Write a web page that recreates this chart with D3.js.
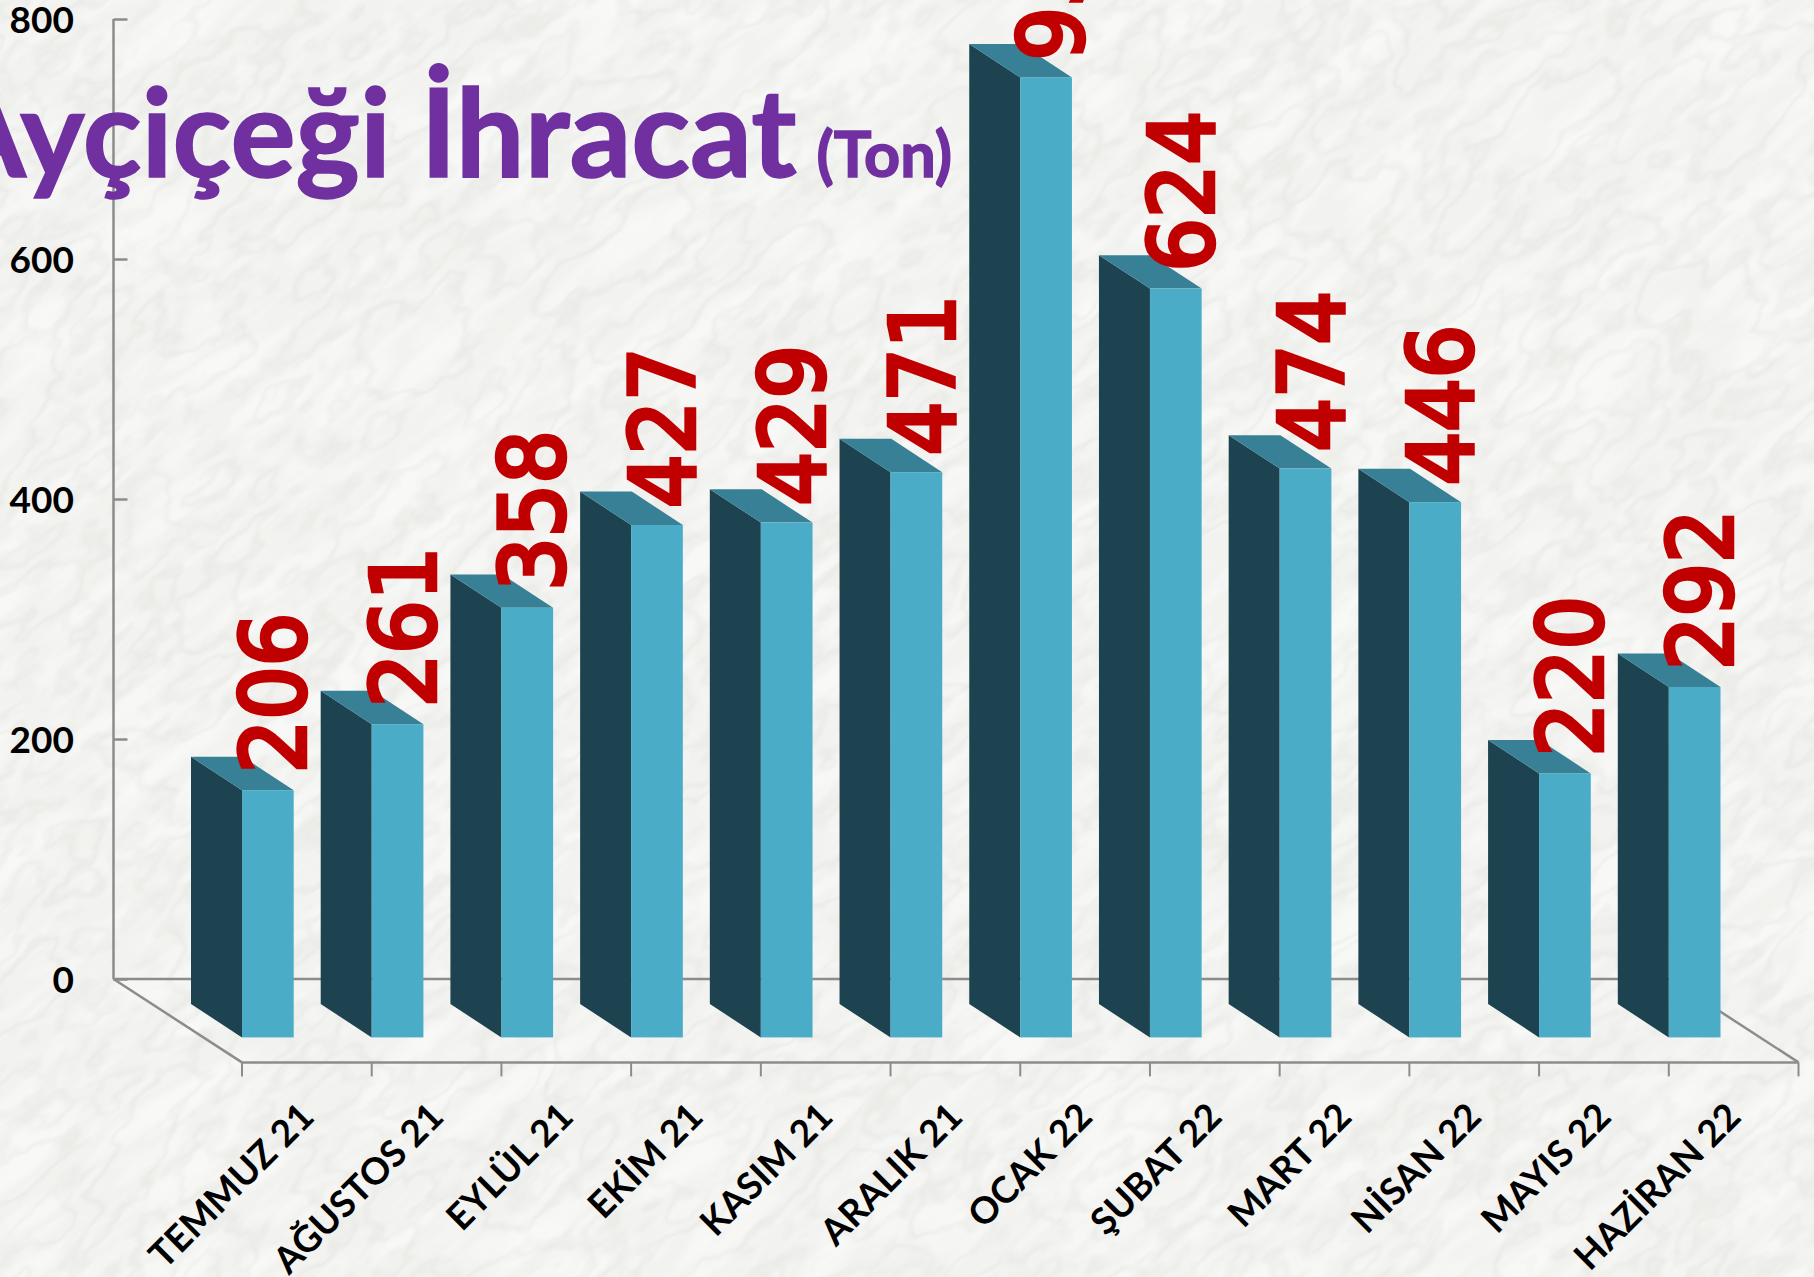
<!DOCTYPE html>
<html>
<head>
<meta charset="utf-8">
<script src="https://d3js.org/d3.v7.min.js"></script>
<style>
  html, body { margin: 0; padding: 0; background: #f7f7f5; overflow: hidden; }
  svg { display: block; }
  .tick-label { font-family: Lato, sans-serif; font-weight: 700; fill: #000; }
</style>
</head>
<body>
<div id="chart"></div>
<script>
var months = ["TEMMUZ 21", "AĞUSTOS 21", "EYLÜL 21", "EKİM 21", "KASIM 21", "ARALIK 21",
              "OCAK 22", "ŞUBAT 22", "MART 22", "NİSAN 22", "MAYIS 22", "HAZİRAN 22"];
var tons = [206, 261, 358, 427, 429, 471, 950, 624, 474, 446, 220, 292];
var yTicks = [0, 200, 400, 600, 800];

var width = 1814, height = 1277;
var depthX = 51, depthY = 33.4;   // one bar's depth
var floorX = 128.4, floorY = 83.4; // depth of the floor
var barW = 51.7;

var svg = d3.select("#chart").append("svg")
    .attr("width", width)
    .attr("height", height);

// marble background: soft streaks plus a few thin veins
var defs = svg.append("defs");
function marbleFilter(id, freq, seed, table, grey) {
    var f = defs.append("filter").attr("id", id)
        .attr("x", 0).attr("y", 0).attr("width", "100%").attr("height", "100%")
        .attr("color-interpolation-filters", "sRGB");
    f.append("feTurbulence")
        .attr("type", "fractalNoise")
        .attr("baseFrequency", freq)
        .attr("numOctaves", 4)
        .attr("seed", seed);
    f.append("feColorMatrix")
        .attr("type", "matrix")
        .attr("values", "0 0 0 0 " + grey + "  0 0 0 0 " + grey + "  0 0 0 0 " + (grey - 0.02) + "  1 0 0 0 0");
    f.append("feComponentTransfer")
        .append("feFuncA")
        .attr("type", "table")
        .attr("tableValues", table);
}
marbleFilter("streaks", "0.006 0.028", 3, "0 0 0 0 0.02 0.06 0.12 0.17 0.12 0.06 0.02 0 0 0", 0.82);
marbleFilter("veins", "0.009 0.016", 11, "0 0 0 0 0 0 0.12 0 0 0.1 0 0 0 0 0", 0.72);

svg.append("rect").attr("width", width).attr("height", height).attr("fill", "#f8f8f6");
["streaks", "veins"].forEach(function(id) {
    svg.append("rect")
        .attr("x", -800).attr("y", -800)
        .attr("width", width + 1600).attr("height", height + 1600)
        .attr("filter", "url(#" + id + ")")
        .attr("transform", "rotate(-40 907 638)");
});

var y = d3.scaleLinear().domain([0, 800]).range([979, 19]).clamp(true);
var x = d3.scaleBand().domain(months).range([242, 1798.5]);

// y axis
var yAxis = d3.axisRight(y).tickValues(yTicks).tickSize(14).tickFormat("");
var yG = svg.append("g").attr("transform", "translate(113.5,0)").call(yAxis);
yG.selectAll("path").remove();
yG.selectAll("line").attr("stroke", "#8c8c8c").attr("stroke-width", 2.5);
svg.append("line")
    .attr("x1", 113.5).attr("x2", 113.5).attr("y1", y(800)).attr("y2", y(0))
    .attr("stroke", "#8c8c8c").attr("stroke-width", 2.5);

svg.selectAll(".y-label")
    .data(yTicks)
    .enter()
    .append("text")
    .attr("class", "tick-label y-label")
    .attr("x", 74)
    .attr("y", function(d) { return y(d) + 14; })
    .attr("text-anchor", "end")
    .style("font-size", "37px")
    .text(function(d) { return d; });

// floor
var floor = [
    [113.5, y(0), x.range()[1] - floorX, y(0)],
    [113.5, y(0), 113.5 + floorX, y(0) + floorY],
    [x.range()[1] - floorX, y(0), x.range()[1], y(0) + floorY],
    [113.5 + floorX, y(0) + floorY, x.range()[1], y(0) + floorY]
];
svg.selectAll(".floor")
    .data(floor)
    .enter()
    .append("line")
    .attr("class", "floor")
    .attr("x1", function(d) { return d[0]; })
    .attr("y1", function(d) { return d[1]; })
    .attr("x2", function(d) { return d[2]; })
    .attr("y2", function(d) { return d[3]; })
    .attr("stroke", "#8c8c8c")
    .attr("stroke-width", 2.5);

// x ticks sit on the band edges
svg.selectAll(".x-tick")
    .data(months.map(function(m) { return x(m); }).concat(x.range()[1]))
    .enter()
    .append("line")
    .attr("class", "x-tick")
    .attr("x1", function(d) { return d; })
    .attr("x2", function(d) { return d; })
    .attr("y1", y(0) + floorY)
    .attr("y2", y(0) + floorY + 14)
    .attr("stroke", "#8c8c8c")
    .attr("stroke-width", 2);

svg.selectAll(".x-label")
    .data(months)
    .enter()
    .append("text")
    .attr("class", "tick-label x-label")
    .attr("text-anchor", "end")
    .attr("transform", function(d) {
        return "translate(" + (x(d) + 74) + ",1119) rotate(-45)";
    })
    .style("font-size", "36.8px")
    .text(function(d) { return d; });

// bars, front bottom edge is 25 px above the floor line
var base = y(0) + floorY - 25;
var bars = svg.selectAll(".bar")
    .data(tons)
    .enter()
    .append("g")
    .attr("class", "bar")
    .attr("transform", function(d, i) { return "translate(" + x(months[i]) + ",0)"; });

function barHeight(d) { return y(0) - y(d); }

// side
bars.append("path")
    .attr("fill", "#1d4350")
    .attr("d", function(d) {
        var t = base - barHeight(d);
        return "M0," + t + "L" + (-depthX) + "," + (t - depthY) +
               "L" + (-depthX) + "," + (base - depthY) + "L0," + base + "Z";
    });
// top
bars.append("path")
    .attr("fill", "#378096")
    .attr("d", function(d) {
        var t = base - barHeight(d);
        return "M0," + t + "L" + (-depthX) + "," + (t - depthY) +
               "L" + (barW - depthX) + "," + (t - depthY) + "L" + barW + "," + t + "Z";
    });
// front
bars.append("rect")
    .attr("fill", "#4bacc8")
    .attr("x", 0)
    .attr("width", barW)
    .attr("y", function(d) { return base - barHeight(d); })
    .attr("height", barHeight);

// title
var title = svg.append("text")
    .attr("x", 952)
    .attr("y", 177)
    .attr("text-anchor", "end")
    .attr("fill", "#7030a0")
    .attr("stroke", "#7030a0")
    .attr("stroke-width", 1.5)
    .style("font-family", "Lato, sans-serif")
    .style("font-weight", 700);
title.append("tspan").style("font-size", "122px").text("Ayçiçeği İhracat");
title.append("tspan").attr("dx", 20).style("font-size", "63px").text("(Ton)");

// data labels
svg.selectAll(".value")
    .data(tons)
    .enter()
    .append("text")
    .attr("class", "value")
    .attr("fill", "#c00000")
    .attr("transform", function(d, i) {
        return "translate(" + (x(months[i]) + 63) + "," + (base - barHeight(d) - 17) + ") rotate(-90) scale(0.945,1)";
    })
    .style("font-family", "'DejaVu Sans', sans-serif")
    .style("font-size", "89px")
    .style("font-weight", 400)
    .style("stroke", "#c00000")
    .style("stroke-width", "4.5px")
    .text(function(d) { return d; });
</script>
</body>
</html>
